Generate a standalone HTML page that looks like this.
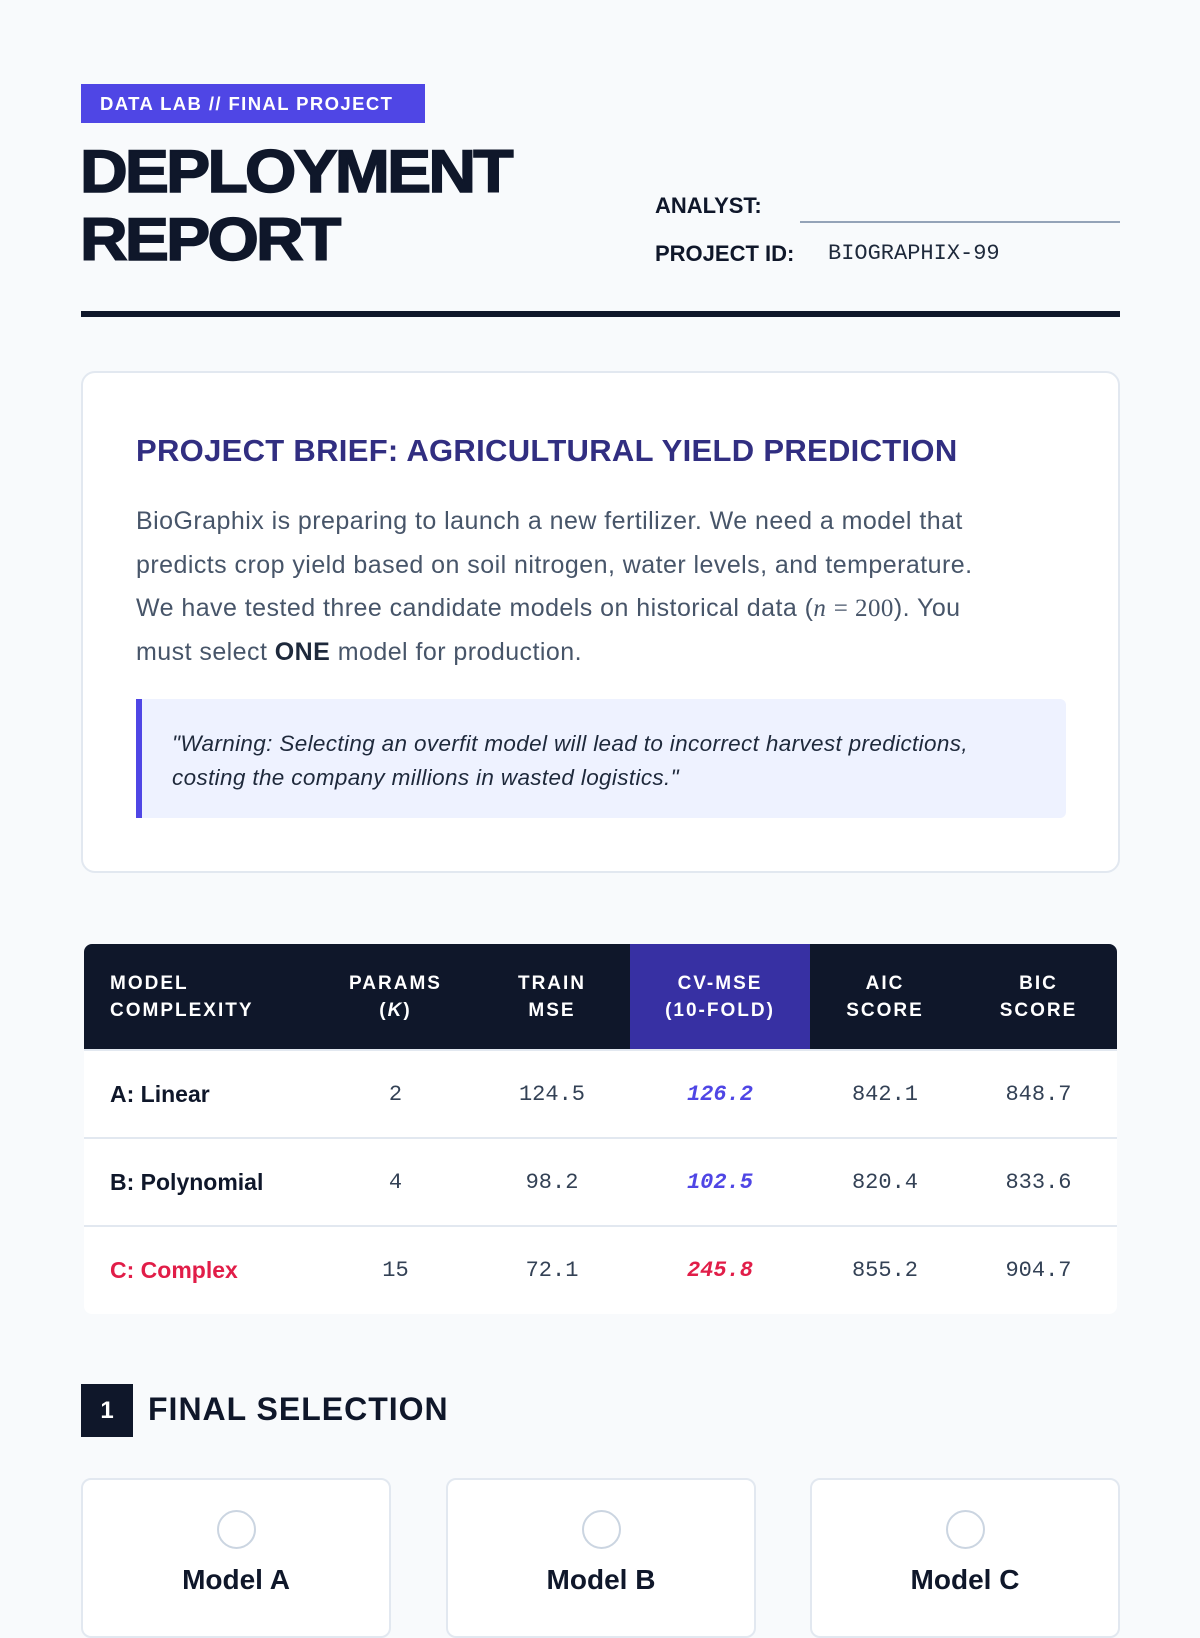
<!DOCTYPE html>
<html><head><meta charset="utf-8"><style>
*{box-sizing:border-box;margin:0;padding:0}
body{width:1200px;height:1600px;overflow:hidden;background:#f8fafc;font-family:"Liberation Sans",sans-serif;color:#0f172a;position:relative}
.abs{position:absolute}
.mono{font-family:"Liberation Mono",monospace}
.badge{left:81px;top:84px;width:344px;height:39px;background:#4f46e5;color:#fff;font-weight:700;font-size:18.5px;line-height:39px;padding-left:19px;letter-spacing:1.4px}
.title{left:80px;top:138px;font-size:60px;font-weight:900;line-height:68px;letter-spacing:-2.5px;color:#0f172a;transform:scaleX(1.1);transform-origin:left;-webkit-text-stroke:1.5px #0f172a}
.lbl{font-weight:700;font-size:22px;color:#0f172a}
.card{left:81px;top:371px;width:1039px;height:502px;background:#fff;border:2px solid #e2e8f0;border-radius:14px}
table{position:absolute;left:84px;top:944px;width:1033px;border-collapse:collapse;background:#fff;border-radius:8px;overflow:hidden}
th{background:#0f172a;color:#fff;font-size:19px;letter-spacing:2px;line-height:27px;height:106px;font-weight:700;text-align:center}
th.cv{background:#3730a3}
td{height:88px;text-align:center;font-family:"Liberation Mono",monospace;font-size:22px;color:#334155;border-top:2px solid #e2e8f0}
tr:first-child td{border-top:none}
td.m{text-align:left;padding-left:26px;font-family:"Liberation Sans",sans-serif;font-weight:700;color:#0f172a;font-size:23px}
td.cv{color:#4f46e5;font-style:italic;font-weight:700}
.sel{top:1478px;width:310px;height:160px;background:#fff;border:2px solid #e2e8f0;border-radius:10px}
.radio{position:absolute;left:50%;top:30px;width:39px;height:39px;margin-left:-19px;border:2px solid #cbd5e1;border-radius:50%}
.mn{position:absolute;left:0;right:0;top:84px;text-align:center;font-weight:700;font-size:28px}
</style></head><body>
<div class="abs badge">DATA LAB // FINAL PROJECT</div>
<div class="abs title">DEPLOYMENT<br>REPORT</div>
<div class="abs lbl" style="left:655px;top:193px">ANALYST:</div>
<div class="abs" style="left:800px;top:221px;width:320px;height:2px;background:#94a3b8"></div>
<div class="abs lbl" style="left:655px;top:241px">PROJECT ID:</div>
<div class="abs mono" style="left:828px;top:241px;font-size:22px;color:#1e293b">BIOGRAPHIX-99</div>
<div class="abs" style="left:81px;top:311px;width:1039px;height:6px;background:#0f172a"></div>

<div class="abs card">
 <div class="abs" style="left:53px;top:60px;font-size:31px;font-weight:700;color:#312e81;letter-spacing:.3px">PROJECT BRIEF: AGRICULTURAL YIELD PREDICTION</div>
 <div class="abs" style="left:53px;top:127px;width:960px;white-space:nowrap;font-size:25px;line-height:43.5px;color:#475569;letter-spacing:.45px">BioGraphix is preparing to launch a new fertilizer. We need a model that<br>predicts crop yield based on soil nitrogen, water levels, and temperature.<br>We have tested three candidate models on historical data (<i style="font-family:'Liberation Serif',serif">n</i> <span style="font-family:'Liberation Serif',serif">= 200</span>). You<br>must select <b style="color:#1e293b">ONE</b> model for production.</div>
 <div class="abs" style="left:53px;top:326px;width:930px;height:119px;background:#eef2ff;border-left:6px solid #4f46e5;border-radius:0 6px 6px 0;padding:28px 30px;font-style:italic;font-size:22.5px;line-height:34px;color:#1e293b;letter-spacing:.35px">"Warning: Selecting an overfit model will lead to incorrect harvest predictions, costing the company millions in wasted logistics."</div>
</div>

<table>
<tr><th style="text-align:left;padding-left:26px;width:233px">MODEL<br>COMPLEXITY</th><th style="width:157px">PARAMS<br>(<i>K</i>)</th><th style="width:156px">TRAIN<br>MSE</th><th class="cv" style="width:180px">CV-MSE<br>(10-FOLD)</th><th style="width:150px">AIC<br>SCORE</th><th>BIC<br>SCORE</th></tr>
<tr><td class="m">A: Linear</td><td>2</td><td>124.5</td><td class="cv">126.2</td><td>842.1</td><td>848.7</td></tr>
<tr><td class="m">B: Polynomial</td><td>4</td><td>98.2</td><td class="cv">102.5</td><td>820.4</td><td>833.6</td></tr>
<tr><td class="m" style="color:#e11d48">C: Complex</td><td>15</td><td>72.1</td><td class="cv" style="color:#e11d48">245.8</td><td>855.2</td><td>904.7</td></tr>
</table>

<div class="abs" style="left:81px;top:1384px;width:52px;height:53px;background:#0f172a;color:#fff;font-weight:700;font-size:24px;line-height:53px;text-align:center">1</div>
<div class="abs" style="left:148px;top:1391px;font-size:32px;font-weight:700;letter-spacing:1px">FINAL SELECTION</div>

<div class="abs sel" style="left:81px"><div class="radio"></div><div class="mn">Model A</div></div>
<div class="abs sel" style="left:446px"><div class="radio"></div><div class="mn">Model B</div></div>
<div class="abs sel" style="left:810px"><div class="radio"></div><div class="mn">Model C</div></div>
</body></html>
